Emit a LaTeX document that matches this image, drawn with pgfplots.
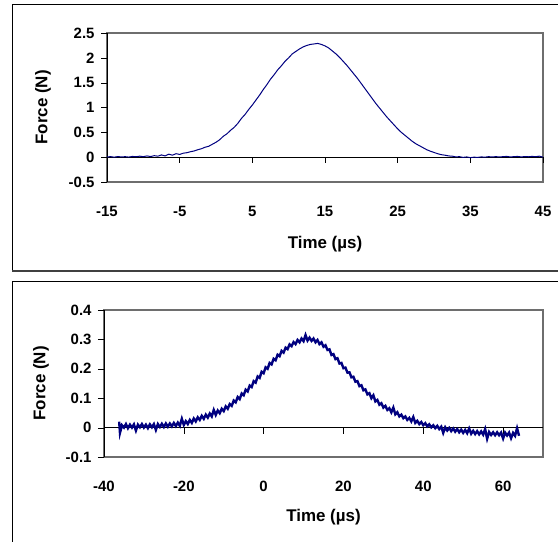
\documentclass[border=0pt]{standalone}
\usepackage{pgfplots}
\pgfplotsset{compat=1.18}
\usepackage{pgfplotstable}
\usepackage{fontspec}
\setmainfont{Liberation Sans}
\definecolor{navy}{RGB}{0,0,128}
\definecolor{areagray}{RGB}{110,110,110}

% top trace, force (N) vs time (us)
\pgfplotstableread{
t f
-15 0.005
-14.5 0.01
-14 0.0
-13.5 0.012
-13 0.004
-12.5 0.01
-12 0.002
-11.5 0.015
-11 0.008
-10.5 0.02
-10 0.01
-9.5 0.025
-9 0.012
-8.5 0.03
-8 0.02
-7.5 0.045
-7 0.025
-6.5 0.06
-6 0.04
-5.5 0.07
-5 0.055
-4.5 0.08
-4 0.09
-3.5 0.11
-3 0.125
-2.5 0.15
-2 0.17
-1.5 0.2
-1 0.22
-0.5 0.26
0 0.3
0.5 0.35
1 0.42
1.5 0.47
2 0.54
2.5 0.6
3 0.68
3.5 0.78
4 0.86
4.5 0.96
5 1.05
5.5 1.15
6 1.25
6.5 1.36
7 1.46
7.5 1.57
8 1.66
8.5 1.76
9 1.84
9.5 1.93
10 2.0
10.5 2.08
11 2.13
11.5 2.18
12 2.22
12.5 2.25
13 2.27
13.5 2.28
14 2.29
14.5 2.27
15 2.24
15.5 2.2
16 2.14
16.5 2.08
17 2.01
17.5 1.93
18 1.85
18.5 1.76
19 1.67
19.5 1.58
20 1.48
20.5 1.38
21 1.28
21.5 1.18
22 1.08
22.5 0.99
23 0.9
23.5 0.81
24 0.73
24.5 0.65
25 0.57
25.5 0.5
26 0.44
26.5 0.38
27 0.32
27.5 0.27
28 0.23
28.5 0.19
29 0.15
29.5 0.12
30 0.095
30.5 0.07
31 0.05
31.5 0.04
32 0.025
32.5 0.02
33 0.005
33.5 0.01
34 -0.005
34.5 0.005
35 -0.01
35.5 0.0
36 -0.005
36.5 0.005
37 0.0
37.5 0.01
38 0.005
38.5 0.01
39 0.005
40 0.015
40.5 0.005
41 0.01
41.5 0.015
42 0.005
42.5 0.012
43 0.008
43.5 0.015
44 0.01
44.5 0.02
45 0.0
}\toptrace

% bottom trace
\pgfplotstableread{
t f
-36.2 0.02
-36 -0.018
-35.5 0.008
-35 0.0
-34.5 0.012
-34 -0.002
-33.5 0.01
-33 0.0
-32.5 0.011
-32 -0.01
-31.5 0.01
-31 0.001
-30.5 0.012
-30 0.0
-29.5 0.01
-29 -0.002
-28.5 0.011
-28 0.001
-27.5 0.012
-27 -0.008
-26.5 0.012
-26 0.002
-25.5 0.013
-25 0.002
-24.5 0.014
-24 0.003
-23.5 0.014
-23 0.004
-22.5 0.016
-22 0.005
-21.5 0.017
-21 0.006
-20.5 0.03
-20 0.009
-19.5 0.022
-19 0.012
-18.5 0.026
-18 0.016
-17.5 0.031
-17 0.021
-16.5 0.035
-16 0.026
-15.5 0.04
-15 0.03
-14.5 0.044
-14 0.034
-13.5 0.048
-13 0.038
-12.5 0.06
-12 0.043
-11.5 0.058
-11 0.049
-10.5 0.064
-10 0.056
-9.5 0.072
-9 0.064
-8.5 0.08
-8 0.074
-7.5 0.092
-7 0.086
-6.5 0.104
-6 0.097
-5.5 0.116
-5 0.11
-4.5 0.129
-4 0.123
-3.5 0.143
-3 0.138
-2.5 0.158
-2 0.153
-1.5 0.174
-1 0.169
-0.5 0.19
0 0.185
0.5 0.205
1 0.2
1.5 0.22
2 0.215
2.5 0.234
3 0.229
3.5 0.248
4 0.243
4.5 0.261
5 0.255
5.5 0.272
6 0.267
6.5 0.283
7 0.277
7.5 0.291
8 0.284
8.5 0.298
9 0.29
9.5 0.303
10 0.294
10.5 0.315
11 0.296
11.5 0.306
12 0.295
12.5 0.303
13 0.29
13.5 0.298
14 0.284
14.5 0.29
15 0.275
15.5 0.28
16 0.264
16.5 0.266
17 0.247
17.5 0.25
18 0.233
18.5 0.236
19 0.218
19.5 0.22
20 0.202
20.5 0.204
21 0.187
21.5 0.188
22 0.171
22.5 0.173
23 0.156
23.5 0.158
24 0.141
24.5 0.144
25 0.127
25.5 0.13
26 0.113
26.5 0.117
27 0.1
27.5 0.11
28 0.089
28.5 0.094
29 0.078
29.5 0.083
30 0.068
30.5 0.074
31 0.06
31.5 0.066
32 0.052
32.5 0.068
33 0.045
33.5 0.052
34 0.038
34.5 0.044
35 0.032
35.5 0.038
36 0.026
36.5 0.033
37 0.021
37.5 0.036
38 0.016
38.5 0.023
39 0.012
39.5 0.019
40 0.008
40.5 0.015
41 0.004
41.5 0.011
42 0.001
42.5 0.008
43 -0.002
43.5 0.006
44 -0.005
44.5 0.003
45 -0.018
45.5 0.001
46 -0.01
46.5 -0.001
47 -0.012
47.5 -0.003
48 -0.014
48.5 -0.005
49 -0.016
49.5 -0.007
50 -0.018
50.5 -0.008
51 -0.019
51.5 -0.003
52 -0.021
52.5 -0.011
53 -0.022
53.5 -0.012
54 -0.023
54.5 -0.013
55 -0.024
55.5 -0.005
56 -0.038
56.5 -0.015
57 -0.025
57.5 -0.016
58 -0.026
58.5 -0.016
59 -0.026
59.5 -0.017
60 -0.037
60.5 -0.017
61 -0.027
61.5 -0.017
62 -0.036
62.5 -0.018
63 -0.028
63.5 -0.002
64 -0.028
}\bottomtrace

\pgfplotsset{
  excel/.style={
    scale only axis,
    anchor=south west,
    clip=false,
    axis line style={draw=none},
    xtick style={draw=none},
    ytick style={black},
    ytick pos=left,
    ytick align=outside,
    major tick length=6bp,
    /pgf/number format/assume math mode=true,
    tick label style={font=\fontsize{15}{18}\selectfont\bfseries},
    xticklabel style={anchor=center, yshift=-29bp},
    yticklabel style={anchor=east, xshift=-3bp},
    label style={font=\fontsize{17}{20}\selectfont\bfseries},
    xlabel style={anchor=center},
    ylabel style={anchor=center},
  }
}

\begin{document}
\begin{tikzpicture}
\useasboundingbox (0,0) rectangle (558bp,542bp);
\clip (0,0) rectangle (558bp,542bp);

% chart frames
\draw[line width=1bp] (12.5bp,271bp) rectangle (580bp,537bp);
\draw[line width=2bp, black!75] (12bp,271bp) -- (580bp,271bp);
\draw[line width=1bp] (12.5bp,-20bp) rectangle (580bp,260bp);

% plot area frames
\draw[areagray, line width=1.5bp] (107bp,360bp) rectangle (543bp,509bp);
\draw[areagray, line width=1.5bp] (104bp,85bp) rectangle (543bp,232bp);

\begin{axis}[excel,
  at={(107bp,360bp)}, width=436bp, height=149bp,
  xmin=-15, xmax=45, ymin=-0.5, ymax=2.5,
  xtick={-15,-5,5,15,25,35,45},
  xticklabels={-15,-5,5,15,25,35,45},
  ytick={-0.5,0,0.5,1,1.5,2,2.5},
  yticklabels={-0.5,0,0.5,1,1.5,2,2.5},
  xlabel={Time (µs)}, ylabel={Force (N)},
  xlabel style={at={(axis description cs:0.5,-0.416)}},
  ylabel style={at={(axis description cs:-0.147,0.5)}},
]
\draw[black] (axis cs:-15,0) -- (axis cs:45,0);
\pgfplotsinvokeforeach{-5,5,15,25,35,45}{
  \draw[black] (axis cs:#1,0) -- ([yshift=-6bp]axis cs:#1,0);
}
\draw[black] (rel axis cs:0,0) -- (rel axis cs:0,1);
\addplot[navy, line width=1bp] table[x=t, y=f] {\toptrace};
\end{axis}

\begin{axis}[excel,
  at={(104bp,85bp)}, width=439bp, height=147bp,
  xmin=-40, xmax=70, ymin=-0.1, ymax=0.4,
  xtick={-40,-20,0,20,40,60},
  xticklabels={-40,-20,0,20,40,60},
  ytick={-0.1,0,0.1,0.2,0.3,0.4},
  yticklabels={-0.1,0,0.1,0.2,0.3,0.4},
  xlabel={Time (µs)}, ylabel={Force (N)},
  xlabel style={at={(axis description cs:0.5,-0.4116)}},
  ylabel style={at={(axis description cs:-0.1435,0.5)}},
]
\draw[black] (axis cs:-40,0) -- (axis cs:70,0);
\pgfplotsinvokeforeach{-20,0,20,40,60}{
  \draw[black] (axis cs:#1,0) -- ([yshift=-6bp]axis cs:#1,0);
}
\draw[black] (rel axis cs:0,0) -- (rel axis cs:0,1);
\addplot[navy, line width=2.4bp] table[x=t, y=f] {\bottomtrace};
\end{axis}
\end{tikzpicture}
\end{document}
